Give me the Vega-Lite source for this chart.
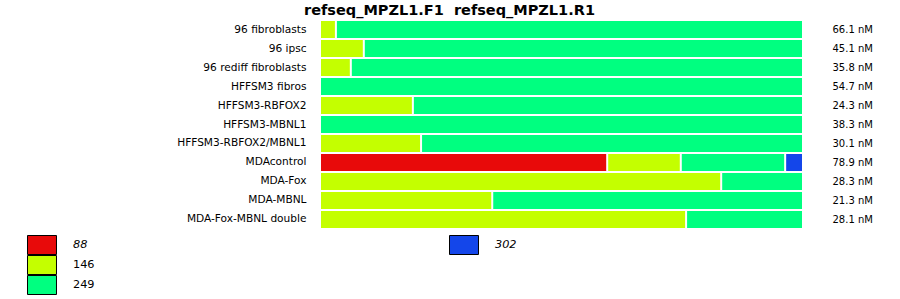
{
  "$schema": "https://vega.github.io/schema/vega-lite/v6.json",
  "width": 481,
  "height": 209,
  "autosize": {"type": "none"},
  "padding": {"left": 321, "top": 20, "right": 98, "bottom": 70},
  "background": "white",
  "config": {
    "font": "DejaVu Sans",
    "view": {"stroke": null}
  },
  "title": {
    "text": "refseq_MPZL1.F1\u00a0 refseq_MPZL1.R1",
    "font": "DejaVu Sans",
    "fontSize": 14.5,
    "fontWeight": "bold",
    "color": "black",
    "anchor": "middle",
    "baseline": "alphabetic",
    "dx": -112,
    "dy": 16,
    "offset": 7
  },
  "datasets": {
    "segments": [
      {"sample": "96 fibroblasts", "allele": 146, "pct": 3.1},
      {"sample": "96 fibroblasts", "allele": 249, "pct": 96.9},
      {"sample": "96 ipsc", "allele": 146, "pct": 8.9},
      {"sample": "96 ipsc", "allele": 249, "pct": 91.1},
      {"sample": "96 rediff fibroblasts", "allele": 146, "pct": 6.2},
      {"sample": "96 rediff fibroblasts", "allele": 249, "pct": 93.8},
      {"sample": "HFFSM3 fibros", "allele": 249, "pct": 100},
      {"sample": "HFFSM3-RBFOX2", "allele": 146, "pct": 19.1},
      {"sample": "HFFSM3-RBFOX2", "allele": 249, "pct": 80.9},
      {"sample": "HFFSM3-MBNL1", "allele": 249, "pct": 100},
      {"sample": "HFFSM3-RBFOX2/MBNL1", "allele": 146, "pct": 20.8},
      {"sample": "HFFSM3-RBFOX2/MBNL1", "allele": 249, "pct": 79.2},
      {"sample": "MDAcontrol", "allele": 88, "pct": 59.5},
      {"sample": "MDAcontrol", "allele": 146, "pct": 15.3},
      {"sample": "MDAcontrol", "allele": 249, "pct": 21.7},
      {"sample": "MDAcontrol", "allele": 302, "pct": 3.5},
      {"sample": "MDA-Fox", "allele": 146, "pct": 83.2},
      {"sample": "MDA-Fox", "allele": 249, "pct": 16.8},
      {"sample": "MDA-MBNL", "allele": 146, "pct": 35.6},
      {"sample": "MDA-MBNL", "allele": 249, "pct": 64.4},
      {"sample": "MDA-Fox-MBNL double", "allele": 146, "pct": 75.9},
      {"sample": "MDA-Fox-MBNL double", "allele": 249, "pct": 24.1}
    ],
    "samples": [
      {"sample": "96 fibroblasts", "conc": "66.1 nM"},
      {"sample": "96 ipsc", "conc": "45.1 nM"},
      {"sample": "96 rediff fibroblasts", "conc": "35.8 nM"},
      {"sample": "HFFSM3 fibros", "conc": "54.7 nM"},
      {"sample": "HFFSM3-RBFOX2", "conc": "24.3 nM"},
      {"sample": "HFFSM3-MBNL1", "conc": "38.3 nM"},
      {"sample": "HFFSM3-RBFOX2/MBNL1", "conc": "30.1 nM"},
      {"sample": "MDAcontrol", "conc": "78.9 nM"},
      {"sample": "MDA-Fox", "conc": "28.3 nM"},
      {"sample": "MDA-MBNL", "conc": "21.3 nM"},
      {"sample": "MDA-Fox-MBNL double", "conc": "28.1 nM"}
    ]
  },
  "layer": [
    {
      "data": {"name": "segments"},
      "transform": [
        {"stack": "pct", "groupby": ["sample"], "sort": [{"field": "allele", "order": "ascending"}], "as": ["x0", "x1"]}
      ],
      "encoding": {
        "y": {
          "field": "sample",
          "type": "nominal",
          "scale": {
            "domain": ["96 fibroblasts", "96 ipsc", "96 rediff fibroblasts", "HFFSM3 fibros", "HFFSM3-RBFOX2", "HFFSM3-MBNL1", "HFFSM3-RBFOX2/MBNL1", "MDAcontrol", "MDA-Fox", "MDA-MBNL", "MDA-Fox-MBNL double"],
            "paddingInner": 0.105,
            "paddingOuter": 0.053
          },
          "axis": {
            "title": null,
            "domain": false,
            "ticks": false,
            "labelFontSize": 10.6,
            "labelColor": "black",
            "labelPadding": 15,
            "labelFont": "DejaVu Sans"
          }
        }
      },
      "layer": [
        {
          "transform": [{"filter": "datum.allele != 302"}],
          "mark": {"type": "bar"},
          "encoding": {
            "x": {"field": "x0", "type": "quantitative", "scale": {"domain": [0, 100], "nice": false}, "axis": null},
            "x2": {"field": "x1"},
            "fill": {
              "field": "allele",
              "type": "nominal",
              "scale": {"domain": [88, 146, 249], "range": ["#e80a0a", "#c4ff00", "#00ff80"]},
              "legend": {
                "title": null,
                "orient": "none",
                "legendX": -294,
                "legendY": 215,
                "symbolType": "M-1.526,-1H1.526V1H-1.526Z",
                "symbolSize": 361,
                "symbolOffset": 5,
                "symbolStrokeColor": "black",
                "symbolStrokeWidth": 1,
                "clipHeight": 20,
                "rowPadding": 0,
                "labelFontSize": 11.3,
                "labelColor": "black",
                "labelOffset": 21,
                "labelFont": "DejaVu Sans",
                "labelFontStyle": {"expr": "datum.value == 88 ? 'italic' : 'normal'"}
              }
            }
          }
        },
        {
          "transform": [{"filter": "datum.allele == 302"}],
          "mark": {"type": "bar"},
          "encoding": {
            "x": {"field": "x0", "type": "quantitative", "scale": {"domain": [0, 100], "nice": false}, "axis": null},
            "x2": {"field": "x1"},
            "color": {
              "field": "allele",
              "type": "nominal",
              "scale": {"domain": [302], "range": ["#1446ea"]},
              "legend": {
                "title": null,
                "orient": "none",
                "legendX": 133,
                "legendY": 215,
                "symbolType": "M-1.526,-1H1.526V1H-1.526Z",
                "symbolSize": 361,
                "symbolStrokeColor": "black",
                "symbolStrokeWidth": 1,
                "labelFontSize": 11.3,
                "labelColor": "black",
                "labelOffset": 21,
                "labelFont": "DejaVu Sans",
                "labelFontStyle": "italic"
              }
            }
          }
        },
        {
          "transform": [{"filter": "datum.x1 < 99.99"}],
          "mark": {"type": "tick", "orient": "vertical", "color": "white", "thickness": 2, "size": 17, "opacity": 1},
          "encoding": {
            "x": {"field": "x1", "type": "quantitative"}
          }
        }
      ]
    },
    {
      "data": {"name": "samples"},
      "mark": {"type": "text", "text": ""},
      "encoding": {
        "y": {
          "field": "conc",
          "type": "nominal",
          "sort": null,
          "scale": {
            "domain": ["66.1 nM", "45.1 nM", "35.8 nM", "54.7 nM", "24.3 nM", "38.3 nM", "30.1 nM", "78.9 nM", "28.3 nM", "21.3 nM", "28.1 nM"],
            "paddingInner": 0.105,
            "paddingOuter": 0.053
          },
          "axis": {
            "orient": "right",
            "title": null,
            "domain": false,
            "ticks": false,
            "labelFontSize": 10,
            "labelColor": "black",
            "labelPadding": 30,
            "labelAlign": "left",
            "labelFont": "DejaVu Sans"
          }
        }
      }
    }
  ],
  "resolve": {"scale": {"y": "independent"}, "axis": {"y": "independent"}}
}
